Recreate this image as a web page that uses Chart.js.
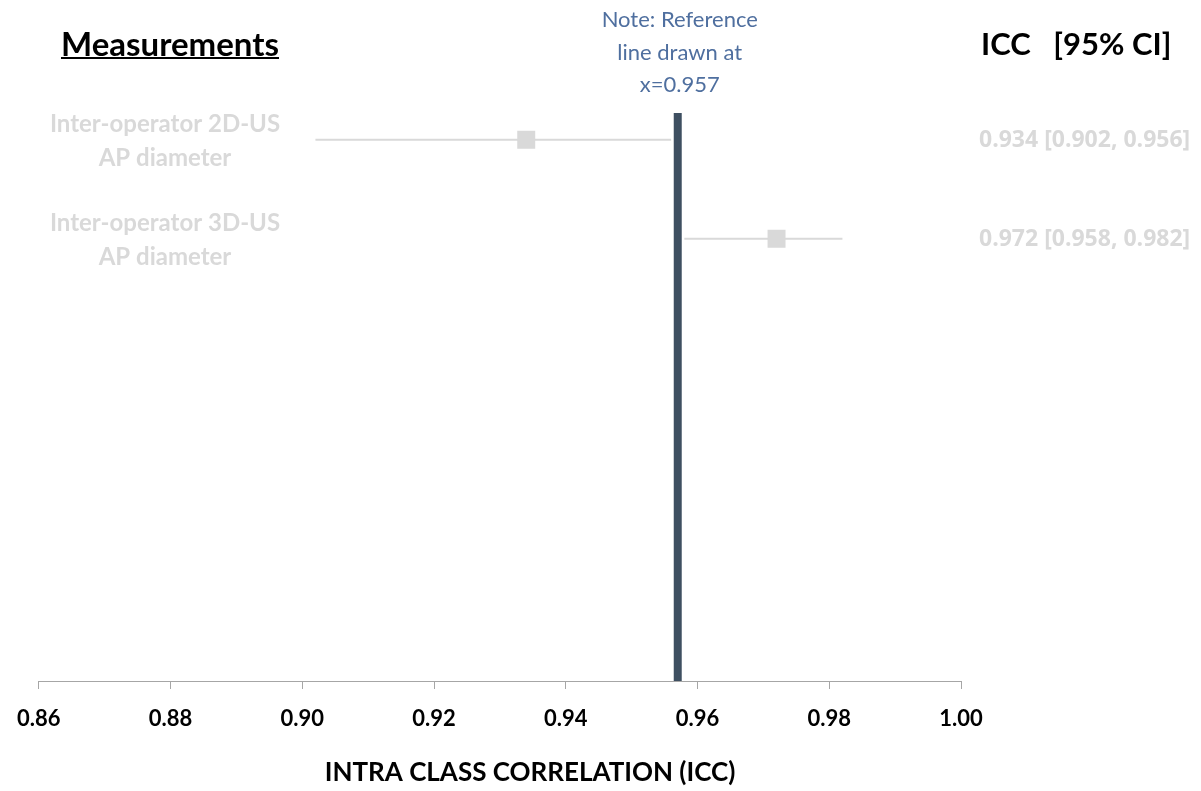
<!DOCTYPE html>
<html>
<head>
<meta charset="utf-8">
<script src="https://cdn.jsdelivr.net/npm/chart.js@4.4.1/dist/chart.umd.min.js"></script>
<style>
  body { margin: 0; background: #fff; }
  canvas { display: block; }
</style>
</head>
<body>
<canvas id="forest" width="1201" height="791"></canvas>
<script>
// data
const measurements = [
  ['Inter-operator 2D-US', 'AP diameter'],
  ['Inter-operator 3D-US', 'AP diameter']
]
const icc = [0.934, 0.972]
const ciLower = [0.902, 0.958]
const ciUpper = [0.956, 0.982]
const referenceX = 0.957
const xTicks = [0.86, 0.88, 0.90, 0.92, 0.94, 0.96, 0.98, 1.00]
const xTitle = 'INTRA CLASS CORRELATION (ICC)'

const rows = measurements.map((m, i) => i + 1)
const yMin = 0.73
const yMax = 6.47

const lightGrey = '#d9d9d9'
const refColor = '#3e4f61'
const noteColor = '#4f6f9f'

Chart.defaults.font.family = 'Lato'

function buildDatasets() {
  const whiskers = rows.map((row, i) => {
    return {
      type: 'line',
      data: [{x: ciLower[i], y: row}, {x: ciUpper[i], y: row}],
      borderColor: lightGrey,
      borderWidth: 2,
      pointRadius: 0,
      order: 3
    }
  })

  const points = {
    type: 'scatter',
    data: rows.map((row, i) => ({x: icc[i], y: row})),
    pointStyle: 'rect',
    pointRadius: 12.7,
    backgroundColor: lightGrey,
    borderWidth: 0,
    order: 2
  }

  const refLine = {
    type: 'line',
    data: [{x: referenceX, y: yMin}, {x: referenceX, y: yMax}],
    borderColor: refColor,
    borderWidth: 8,
    pointRadius: 0,
    order: 1
  }

  return [...whiskers, points, refLine]
}

const sideText = {
  id: 'sideText',
  afterDraw(chart) {
    const ctx = chart.ctx
    const xs = chart.scales.x
    const ys = chart.scales.y
    ctx.save()
    ctx.textBaseline = 'middle'

    // headers
    ctx.fillStyle = '#000'
    ctx.font = 'bold 33px Lato'
    ctx.textAlign = 'center'
    ctx.fillText('Measurements', 170, 45)
    const w = ctx.measureText('Measurements').width
    ctx.fillRect(170 - w / 2, 57, w, 2)
    ctx.font = 'bold 31px Lato'
    ctx.textAlign = 'left'
    ctx.fillText('ICC   [95% CI]', 981, 45)

    // axis title, sits a bit right of the plot centre in the original
    ctx.font = 'bold 26px Lato'
    ctx.textAlign = 'center'
    ctx.fillText(xTitle, 530, 773)

    // note above the reference line
    ctx.fillStyle = noteColor
    ctx.font = '22px Lato'
    const nx = xs.getPixelForValue(referenceX) + 2
    ctx.fillText('Note: Reference', nx, 20)
    ctx.fillText('line drawn at', nx, 53)
    ctx.fillText('x=' + referenceX, nx, 85)

    // row labels and values
    ctx.fillStyle = lightGrey
    rows.forEach((row, i) => {
      const y = ys.getPixelForValue(row)
      ctx.font = 'bold 24px Lato'
      ctx.textAlign = 'center'
      ctx.fillText(measurements[i][0], 165, y - 15)
      ctx.fillText(measurements[i][1], 165, y + 19)
      ctx.font = 'bold 23px "Open Sans"'
      ctx.textAlign = 'left'
      const txt = `${icc[i].toFixed(3)} [${ciLower[i].toFixed(3)}, ${ciUpper[i].toFixed(3)}]`
      ctx.fillText(txt, 979, y + 1)
    })
    ctx.restore()
  }
}

function draw() {
  const ctx = document.getElementById('forest').getContext('2d')
  new Chart(ctx, {
    type: 'scatter',
    data: { datasets: buildDatasets() },
    options: {
      responsive: false,
      animation: false,
      layout: {
        padding: { left: 36, right: 240, top: 113, bottom: 0 }
      },
      plugins: {
        legend: { display: false },
        tooltip: { enabled: false }
      },
      scales: {
        x: {
          type: 'linear',
          min: xTicks[0],
          max: xTicks[xTicks.length - 1],
          afterBuildTicks: (scale) => {
            scale.ticks = xTicks.map(v => ({ value: v }))
          },
          afterFit: (scale) => {
            scale.height = 110
          },
          ticks: {
            color: '#000',
            padding: 17,
            maxRotation: 0,
            font: { size: 22, weight: 'bold' },
            callback: (v) => Number(v).toFixed(2)
          },
          grid: {
            drawOnChartArea: false,
            drawTicks: true,
            tickLength: 8,
            color: '#a6a6a6'
          },
          border: { display: true, color: '#a6a6a6', width: 1 },
          title: { display: false }
        },
        y: {
          display: false,
          reverse: true,
          min: yMin,
          max: yMax
        }
      }
    },
    plugins: [sideText]
  })
}

document.fonts.load('bold 24px Lato').then(draw, draw)
</script>
</body>
</html>
